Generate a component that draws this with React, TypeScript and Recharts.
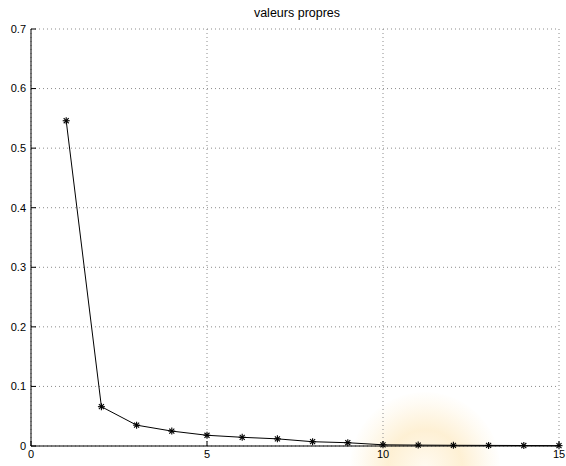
import { LineChart, Line, XAxis, YAxis, CartesianGrid } from 'recharts';

const indices = [1, 2, 3, 4, 5, 6, 7, 8, 9, 10, 11, 12, 13, 14, 15];
const eigenvalues = [0.546, 0.066, 0.035, 0.025, 0.018, 0.0146, 0.012, 0.0072, 0.0055, 0.002, 0.0015, 0.0012, 0.001, 0.0008, 0.0006];
const xTicks = [0, 5, 10, 15];
const yTicks = [0, 0.1, 0.2, 0.3, 0.4, 0.5, 0.6, 0.7];
const title = 'valeurs propres';

const data = indices.map((k, i) => ({ k, v: eigenvalues[i] }));

const font = 'Liberation Sans, Arial, Helvetica, sans-serif';

function Star(props: any) {
    const { cx, cy } = props;
    if (cx == null || cy == null) return null;
    const r = 3.5;
    const d = r * 0.72;
    return (
        <g stroke="#000" strokeWidth={1.1}>
            <line x1={cx - r} y1={cy} x2={cx + r} y2={cy} />
            <line x1={cx} y1={cy - r} x2={cx} y2={cy + r} />
            <line x1={cx - d} y1={cy - d} x2={cx + d} y2={cy + d} />
            <line x1={cx - d} y1={cy + d} x2={cx + d} y2={cy - d} />
        </g>
    );
}

export default function App() {
    return (
        <div style={{ position: 'relative', width: 566, height: 466, background: '#fff', fontFamily: font, overflow: 'hidden' }}>
            <style>{'body{margin:0}'}</style>
            {/* faint watermark glow, bottom right */}
            <div
                style={{
                    position: 'absolute',
                    left: 350,
                    top: 392,
                    width: 150,
                    height: 150,
                    borderRadius: '50%',
                    background: 'radial-gradient(ellipse at center, rgba(255,245,225,0.5) 0%, rgba(252,222,160,0.45) 35%, rgba(253,235,195,0.2) 60%, rgba(255,255,255,0) 72%)',
                }}
            />
            <div
                style={{
                    position: 'absolute',
                    left: 0,
                    top: 6,
                    width: 594,
                    textAlign: 'center',
                    fontSize: 12.5,
                    color: '#000',
                }}
            >
                {title}
            </div>
            <LineChart
                width={566}
                height={466}
                data={data}
                margin={{ top: 29, right: 7, left: 0, bottom: 0 }}
                style={{ position: 'absolute', left: 0, top: 0 }}
            >
                <CartesianGrid stroke="#8c8c8c" strokeDasharray="1 3" />
                <XAxis
                    dataKey="k"
                    type="number"
                    domain={[0, 15]}
                    ticks={xTicks}
                    height={20}
                    axisLine={{ stroke: '#000', strokeWidth: 1 }}
                    tickLine={{ stroke: '#000' }}
                    tickSize={-5}
                    tickMargin={9}
                    tick={{ fill: '#000', fontSize: 11, fontFamily: font }}
                    interval={0}
                />
                <YAxis
                    type="number"
                    domain={[0, 0.7]}
                    ticks={yTicks}
                    width={31}
                    axisLine={{ stroke: '#000', strokeWidth: 1 }}
                    tickLine={{ stroke: '#000' }}
                    tickSize={-5}
                    tickMargin={10}
                    tickFormatter={(v: number) => (v === 0 ? '0' : v.toFixed(1))}
                    tick={{ fill: '#000', fontSize: 11, fontFamily: font }}
                    interval={0}
                />
                <Line
                    dataKey="v"
                    stroke="#000"
                    strokeWidth={1}
                    dot={<Star />}
                    activeDot={false}
                    isAnimationActive={false}
                />
            </LineChart>
        </div>
    );
}
